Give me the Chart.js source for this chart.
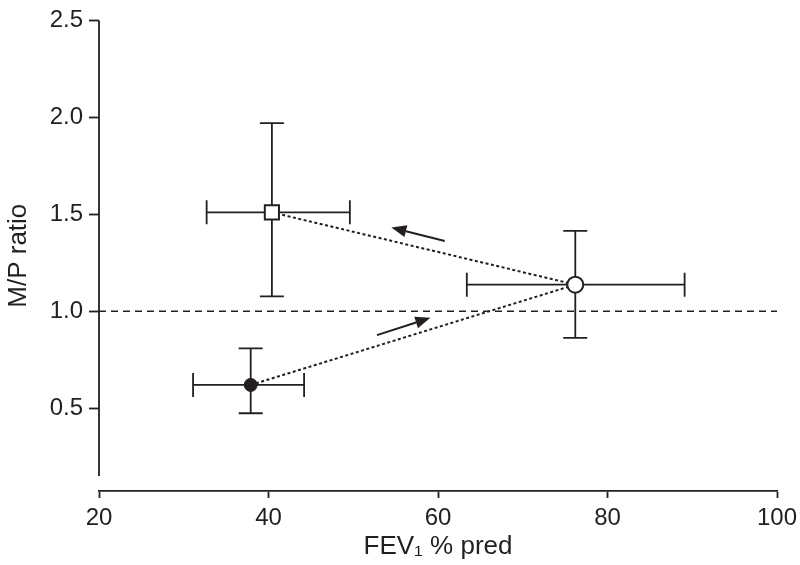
<!DOCTYPE html>
<html>
<head>
<meta charset="utf-8">
<script src="https://cdn.jsdelivr.net/npm/chart.js@4"></script>
<style>
	body { margin: 0; background: #fff; }
</style>
</head>
<body>
<canvas id="mycanvas" width="800" height="565"></canvas>
<script>
// group means (FEV1 % pred, M/P ratio) with their error ranges
var meanX = [37.9, 76.2, 40.4];
var meanY = [0.62, 1.137, 1.51];
var xLow  = [31.1, 63.4, 32.7];
var xHigh = [44.2, 89.1, 49.6];
var yLow  = [0.474, 0.863, 1.077];
var yHigh = [0.809, 1.415, 1.97];

// dotted path through the means: filled -> open -> square
var pathOrder = [0, 1, 2];

// arrows, tail -> head
var arrowTailX = [52.8, 60.8];
var arrowTailY = [0.877, 1.362];
var arrowHeadX = [59.1, 54.5];
var arrowHeadY = [0.966, 1.432];

var refLineY = 1.0;
var xTicks = [20, 40, 60, 80, 100];
var yTicks = [0.5, 1.0, 1.5, 2.0, 2.5];
var yAxisEnd = 0.15;

var ink = "#231f20";

Chart.defaults.font.family = "'Liberation Sans', Arial, sans-serif";
Chart.defaults.font.size = 24;
Chart.defaults.color = ink;

var extras = {
	id: "extras",
	beforeDatasetsDraw: function(chart) {
		var ctx = chart.ctx;
		var xs = chart.scales.x, ys = chart.scales.y;
		var cap = 12;
		ctx.save();
		ctx.strokeStyle = ink;
		ctx.lineWidth = 1.8;
		for (var i = 0; i < meanX.length; i++) {
			var cx = xs.getPixelForValue(meanX[i]);
			var cy = ys.getPixelForValue(meanY[i]);
			var x0 = xs.getPixelForValue(xLow[i]), x1 = xs.getPixelForValue(xHigh[i]);
			var y0 = ys.getPixelForValue(yLow[i]), y1 = ys.getPixelForValue(yHigh[i]);
			ctx.beginPath();
			ctx.moveTo(x0, cy); ctx.lineTo(x1, cy);
			ctx.moveTo(x0, cy - cap); ctx.lineTo(x0, cy + cap);
			ctx.moveTo(x1, cy - cap); ctx.lineTo(x1, cy + cap);
			ctx.moveTo(cx, y0); ctx.lineTo(cx, y1);
			ctx.moveTo(cx - cap, y0); ctx.lineTo(cx + cap, y0);
			ctx.moveTo(cx - cap, y1); ctx.lineTo(cx + cap, y1);
			ctx.stroke();
		}
		ctx.restore();
	},
	afterDraw: function(chart) {
		var ctx = chart.ctx;
		var xs = chart.scales.x, ys = chart.scales.y;
		ctx.save();
		ctx.strokeStyle = ink;
		ctx.fillStyle = ink;
		// y axis line, stops short of the x axis
		ctx.lineWidth = 1.8;
		ctx.beginPath();
		ctx.moveTo(chart.chartArea.left, ys.getPixelForValue(yTicks[yTicks.length - 1]));
		ctx.lineTo(chart.chartArea.left, ys.getPixelForValue(yAxisEnd));
		ctx.stroke();
		// arrows
		for (var i = 0; i < arrowTailX.length; i++) {
			var tx = xs.getPixelForValue(arrowTailX[i]), ty = ys.getPixelForValue(arrowTailY[i]);
			var hx = xs.getPixelForValue(arrowHeadX[i]), hy = ys.getPixelForValue(arrowHeadY[i]);
			var ang = Math.atan2(hy - ty, hx - tx);
			var len = 15, half = 6;
			var bx = hx - len * Math.cos(ang), by = hy - len * Math.sin(ang);
			ctx.lineWidth = 2;
			ctx.beginPath();
			ctx.moveTo(tx, ty);
			ctx.lineTo(bx, by);
			ctx.stroke();
			ctx.beginPath();
			ctx.moveTo(hx, hy);
			ctx.lineTo(bx + half * Math.sin(ang), by - half * Math.cos(ang));
			ctx.lineTo(bx - half * Math.sin(ang), by + half * Math.cos(ang));
			ctx.closePath();
			ctx.fill();
		}
		ctx.restore();
	}
};

var ctx = document.getElementById("mycanvas");

var chart = new Chart(ctx, {
	type: "scatter",
	data: {
		datasets: [
			{
				data: [{x: xTicks[0], y: refLineY}, {x: xTicks[xTicks.length - 1], y: refLineY}],
				showLine: true,
				borderColor: ink,
				borderWidth: 1.5,
				borderDash: [7, 5],
				pointRadius: 0,
				order: 4
			},
			{
				data: pathOrder.map(function(i) { return {x: meanX[i], y: meanY[i]}; }),
				showLine: true,
				borderColor: ink,
				borderWidth: 2,
				borderDash: [3, 2.5],
				pointRadius: 0,
				order: 3
			},
			{
				data: [{x: meanX[0], y: meanY[0]}],
				pointStyle: "circle",
				pointRadius: 6.5,
				backgroundColor: ink,
				borderColor: ink,
				borderWidth: 1,
				order: 0
			},
			{
				data: [{x: meanX[1], y: meanY[1]}],
				pointStyle: "circle",
				pointRadius: 8,
				backgroundColor: "#fff",
				borderColor: ink,
				borderWidth: 2,
				order: 0
			},
			{
				data: [{x: meanX[2], y: meanY[2]}],
				pointStyle: "rect",
				pointRadius: 10,
				backgroundColor: "#fff",
				borderColor: ink,
				borderWidth: 2,
				order: 0
			}
		]
	},
	options: {
		responsive: false,
		animation: false,
		layout: { padding: { top: 17, right: 23, left: 0, bottom: 0 } },
		plugins: {
			legend: { display: false },
			tooltip: { enabled: false }
		},
		scales: {
			x: {
				type: "linear",
				min: 20,
				max: 100,
				afterBuildTicks: function(axis) {
					axis.ticks = xTicks.map(function(v) { return {value: v}; });
				},
				afterFit: function(axis) {
					axis.height = 74;
					axis.paddingLeft = 0;
					axis.paddingRight = 0;
				},
				grid: {
					drawOnChartArea: false,
					drawTicks: true,
					tickLength: 7,
					tickWidth: 1.8,
					tickColor: ink
				},
				border: { display: true, color: ink, width: 1.8 },
				ticks: { padding: 6, maxRotation: 0 },
				title: {
					display: true,
					text: "FEV\u2081 % pred",
					font: { size: 26 },
					padding: { top: 2, bottom: 3 }
				}
			},
			y: {
				type: "linear",
				min: 0.073,
				max: 2.5,
				afterBuildTicks: function(axis) {
					axis.ticks = yTicks.map(function(v) { return {value: v}; });
				},
				afterFit: function(axis) { axis.width = 99; },
				grid: {
					drawOnChartArea: false,
					drawTicks: true,
					tickLength: 10,
					tickWidth: 1.8,
					tickColor: ink
				},
				border: { display: false },
				ticks: {
					padding: 6,
					callback: function(v) { return v.toFixed(1); }
				},
				title: {
					display: true,
					text: "M/P ratio",
					font: { size: 26 },
					padding: { top: 3, bottom: 4 }
				}
			}
		}
	},
	plugins: [extras]
});
</script>
</body>
</html>
